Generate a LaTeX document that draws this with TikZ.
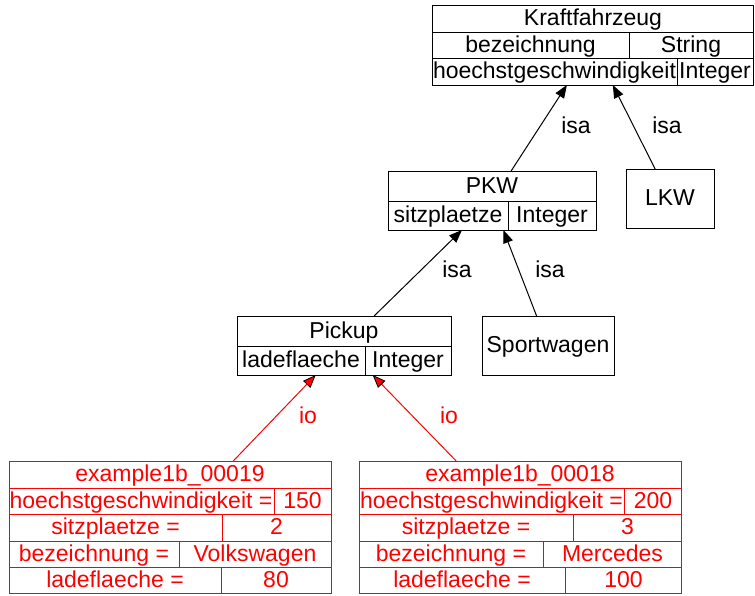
\documentclass[tikz,border=0pt]{standalone}
\usepackage{fontspec}
\setmainfont{Liberation Sans}
\usetikzlibrary{arrows.meta}
\begin{document}
\begin{tikzpicture}[x=1pt,y=-1pt, line width=1pt,
  txt/.style={font=\fontsize{23}{27}\selectfont, inner sep=0pt, anchor=base},
  rec/.style={draw, rectangle, inner sep=0pt, outer sep=0pt},
  isa/.style={-{Triangle[length=13pt,width=10pt]}},
  io/.style={red, -{Triangle[length=13pt,width=10pt,fill=red,color=black,line width=0.8pt]}}]
\useasboundingbox (0,0) rectangle (755,595);

% ---- class Kraftfahrzeug
\node[rec, minimum width=321.5pt, minimum height=80pt] (kfz) at (592.75,45) {};
\draw (432,32) -- (753.5,32) (432,58) -- (753.5,58) (629,32) -- (629,58) (677,58) -- (677,85);
\node[txt] (kfzT) at (593,25.5) {Kraftfahrzeug};
\node[txt] (kfzA1) at (530.5,52) {bezeichnung};
\node[txt] (kfzB1) at (691,52) {String};
\node[txt] (kfzA2) at (554.5,78.5) {hoechstgeschwindigkeit};
\node[txt] (kfzB2) at (715,78.5) {Integer};

% ---- class PKW
\node[rec, minimum width=208pt, minimum height=59pt] (pkw) at (492,200.5) {};
\draw (388,201) -- (596,201) (508,201) -- (508,230);
\node[txt] (pkwT) at (492,193) {PKW};
\node[txt] (pkwA) at (448,222.5) {sitzplaetze};
\node[txt] (pkwB) at (552,222.5) {Integer};

% ---- class LKW
\node[rec, minimum width=88pt, minimum height=59pt] (lkw) at (670,198.5) {};
\node[txt] (lkwT) at (670,205.5) {LKW};

% ---- class Pickup
\node[rec, minimum width=214pt, minimum height=59pt] (pickup) at (344,345.5) {};
\draw (237,346) -- (451,346) (365,346) -- (365,375);
\node[txt] (pickT) at (344,338) {Pickup};
\node[txt] (pickA) at (301,367.5) {ladeflaeche};
\node[txt] (pickB) at (408,367.5) {Integer};

% ---- class Sportwagen
\node[rec, minimum width=132pt, minimum height=59pt] (sport) at (548,345.5) {};
\node[txt] (sportT) at (548,352) {Sportwagen};

% ---- instance example1b_00019
\begin{scope}[red]
\node[rec, minimum width=322pt, minimum height=132pt] (exA) at (170,527) {};
\draw (9,488) -- (331,488) (9,514) -- (331,514) (9,541) -- (331,541) (9,567) -- (331,567);
\draw (274,488) -- (274,514) (222,514) -- (222,541) (179,541) -- (179,567) (221,567) -- (221,593);
\node[txt] (exAT) at (170,481.5) {example1b\_00019};
\node[txt] (exA1) at (141,508) {hoechstgeschwindigkeit =};
\node[txt] (exA1v) at (302.5,508) {150};
\node[txt] (exA2) at (115.5,534.5) {sitzplaetze =};
\node[txt] (exA2v) at (276.5,534.5) {2};
\node[txt] (exA3) at (94,561) {bezeichnung =};
\node[txt] (exA3v) at (255,561) {Volkswagen};
\node[txt] (exA4) at (115,587) {ladeflaeche =};
\node[txt] (exA4v) at (276,587) {80};
\end{scope}

% ---- instance example1b_00018
\begin{scope}[red]
\node[rec, minimum width=322.5pt, minimum height=132pt] (exB) at (520.25,527) {};
\draw (359,488) -- (681.5,488) (359,514) -- (681.5,514) (359,541) -- (681.5,541) (359,567) -- (681.5,567);
\draw (624.5,488) -- (624.5,514) (573.5,514) -- (573.5,541) (543.5,541) -- (543.5,567) (565,567) -- (565,593);
\node[txt] (exBT) at (520,481.5) {example1b\_00018};
\node[txt] (exB1) at (491.5,508) {hoechstgeschwindigkeit =};
\node[txt] (exB1v) at (653,508) {200};
\node[txt] (exB2) at (466,534.5) {sitzplaetze =};
\node[txt] (exB2v) at (627.5,534.5) {3};
\node[txt] (exB3) at (451,561) {bezeichnung =};
\node[txt] (exB3v) at (612.5,561) {Mercedes};
\node[txt] (exB4) at (462,587) {ladeflaeche =};
\node[txt] (exB4v) at (623.5,587) {100};
\end{scope}

% ---- generalisation edges
\draw[isa] (pkw) -- (kfz);
\draw[isa] (lkw) -- (kfz);
\draw[isa] (pickup) -- (pkw);
\draw[isa] (sport) -- (pkw);
\node[txt] (l1) at (576,133) {isa};
\node[txt] (l2) at (667,133) {isa};
\node[txt] (l3) at (457,277) {isa};
\node[txt] (l4) at (550,277) {isa};

% ---- instance-of edges
\draw[io] (exA) -- (pickup);
\draw[io] (exB) -- (pickup);
\node[txt, red] (l5) at (308,423) {io};
\node[txt, red] (l6) at (449,423) {io};
\end{tikzpicture}
\end{document}
